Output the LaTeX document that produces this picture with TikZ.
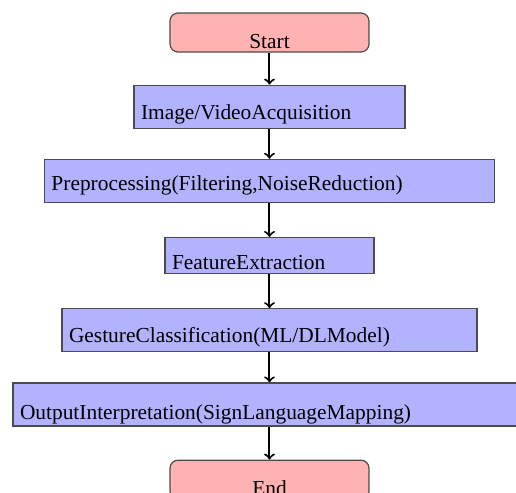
\documentclass[tikz,border=0pt]{standalone}
\usepackage{fontspec}
\setmainfont{Liberation Serif}
\usepackage{tikz}
\usetikzlibrary{arrows}
\usetikzlibrary{positioning}

\begin{document}
\begin{tikzpicture}[x=1pt,y=1pt,node distance=16pt,
	stepbox/.style={draw=black!70,line width=0.6pt,fill=blue!30,inner sep=0pt,inner xsep=3.5pt,
		align=left,font=\fontsize{10.7}{13}\selectfont},
	termbox/.style={stepbox,fill=red!30,rounded corners=4pt,align=center,
		text width=92.5pt,text height=17.5pt,text depth=2pt},
	flow/.style={->,line width=1pt}]
	\useasboundingbox (0,0) rectangle (258,-246.5);
	        \node[termbox] (start) at (134.75,-16.25) {Start};
	        \node[stepbox,text width=128.5pt,text height=17pt,text depth=4.5pt] (acq) [below=16pt of start]{Image/VideoAcquisition};
	        \node[stepbox,text width=218pt,text height=15.5pt,text depth=6pt] (prep) [below=15pt of acq]{Preprocessing(Filtering,NoiseReduction)};
	        \node[stepbox,text width=97.5pt,text height=15.75pt,text depth=2.25pt] (feat) [below=17pt of prep]{FeatureExtraction};
	        \node[stepbox,text width=200.5pt,text height=17pt,text depth=4.5pt] (gest) [below=17pt of feat]{GestureClassification(ML/DLModel)};
	        \node[stepbox,text width=249.5pt,text height=18pt,text depth=3.5pt] (outp) [below=15pt of gest]{OutputInterpretation(SignLanguageMapping)};
	        \node[termbox] (end) [below=16.5pt of outp]{End};
	        \draw[flow] (start) -- (acq);
	        \draw[flow] (acq) -- (prep);
	        \draw[flow] (prep) -- (feat);
	        \draw[flow] (feat) -- (gest);
	        \draw[flow] (gest) -- (outp);
	        \draw[flow] (outp) -- (end);
	     \end{tikzpicture}
\end{document}
